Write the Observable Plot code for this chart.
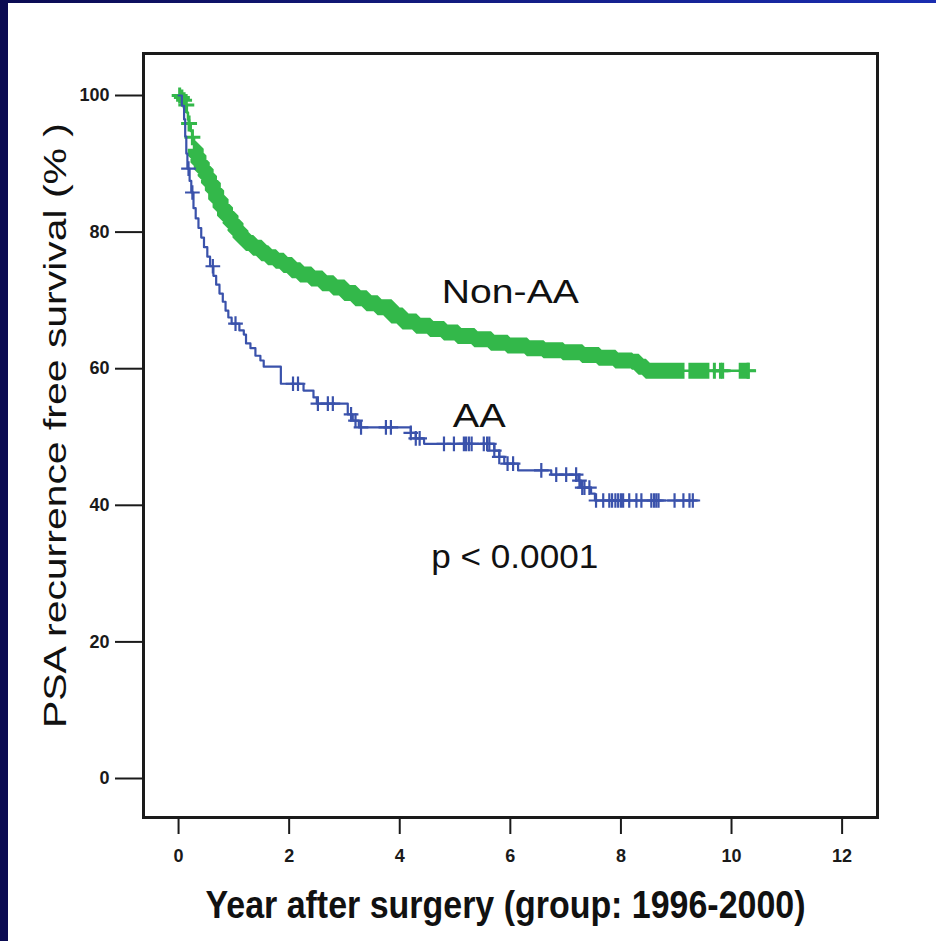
<!DOCTYPE html>
<html><head><meta charset="utf-8">
<script src="https://cdn.jsdelivr.net/npm/d3@7"></script>
<script src="https://cdn.jsdelivr.net/npm/@observablehq/plot@0.6"></script>
<style>
html,body{margin:0;padding:0;background:#fff;}
#wrap{position:relative;width:936px;height:941px;overflow:hidden;background:#fff;}
#chart{position:absolute;left:0;top:0;}
#leftbar{position:absolute;left:0;top:0;width:8px;height:941px;background:#0b0b52;}
#topbar{position:absolute;left:0;top:0;width:936px;height:3px;background:linear-gradient(to right,#0b0b52,#1a2db0);}
</style></head>
<body><div id="wrap"><div id="chart"></div><div id="leftbar"></div><div id="topbar"></div></div>
<script>
// ---- data ----
const xTicks = [0, 2, 4, 6, 8, 10, 12];
const yTicks = [0, 20, 40, 60, 80, 100];
const xLabel = "Year after surgery (group: 1996-2000)";
const yLabel = "PSA recurrence free survival (% )";

// AA group: Kaplan-Meier step points (years, %)
const aaTimes = [0, 0.06, 0.1, 0.12, 0.14, 0.16, 0.2, 0.23, 0.27, 0.31, 0.36, 0.41, 0.46, 0.52, 0.57, 0.63, 0.68, 0.74, 0.8, 0.85, 0.9, 0.96, 1.1, 1.18, 1.22, 1.3, 1.39, 1.48, 1.54, 1.85, 2.26, 2.44, 2.5, 3.06, 3.15, 3.26, 4.2, 4.29, 4.44, 5.71, 5.8, 5.89, 6.14, 6.74, 7.23, 7.28, 7.46, 7.53];
const aaSurv  = [100, 98.5, 96.5, 94, 91.5, 89.3, 87.5, 85.8, 83.5, 82, 80.6, 79.2, 77.8, 76.4, 75, 73.6, 72.3, 71, 69.8, 68.5, 67.5, 66.6, 65.6, 65, 63.7, 63, 61.9, 61.2, 60.3, 57.8, 56.8, 55.8, 54.9, 53.3, 52.4, 51.4, 50.6, 49.8, 49, 48, 47.1, 46.1, 45.1, 44.5, 43.6, 42.6, 41.7, 40.7];
const aaEnd = 9.39;
const aaCensored = [0.18, 0.25, 0.62, 1.03, 2.07, 2.16, 2.52, 2.7, 2.79, 3.12, 3.2, 3.3, 3.75, 3.84, 4.2, 4.29, 4.36, 4.8, 4.98, 5.16, 5.2, 5.25, 5.3, 5.52, 5.58, 5.62, 5.71, 5.8, 5.95, 6.05, 6.56, 6.83, 7.01, 7.19, 7.25, 7.3, 7.34, 7.43, 7.55, 7.68, 7.79, 7.84, 7.9, 7.95, 8.0, 8.04, 8.15, 8.28, 8.37, 8.55, 8.6, 8.64, 8.68, 8.97, 9.13, 9.24, 9.3];

// Non-AA group: Kaplan-Meier step points (years, %)
const nonTimes = [0, 0.04, 0.08, 0.12, 0.15, 0.17, 0.19, 0.22, 0.25, 0.28, 0.31, 0.36, 0.42, 0.49, 0.55, 0.62, 0.68, 0.76, 0.84, 0.94, 1.03, 1.12, 1.22, 1.35, 1.5, 1.62, 1.76, 1.9, 2.05, 2.2, 2.4, 2.6, 2.8, 3.0, 3.2, 3.4, 3.6, 3.85, 4.05, 4.3, 4.55, 4.8, 5.05, 5.35, 5.65, 5.95, 6.3, 6.6, 6.95, 7.3, 7.6, 7.9, 8.2, 8.32, 8.45];
const nonSurv  = [100, 99.7, 99.3, 98.6, 97.5, 96.5, 95.9, 94.8, 93.9, 92.2, 91.2, 90.2, 89.2, 88.2, 87.2, 86.1, 84.8, 83.6, 82.4, 81.3, 80.2, 79.2, 78.4, 77.7, 76.9, 76.3, 75.8, 75.2, 74.4, 73.8, 73.2, 72.5, 71.9, 71.1, 70.3, 69.6, 69.0, 67.8, 66.9, 66.3, 65.8, 65.3, 64.8, 64.3, 63.8, 63.4, 63.0, 62.7, 62.4, 62.0, 61.6, 61.2, 61.0, 60.3, 59.7];
const nonEnd = 10.42;
// runs of densely packed censoring marks (year from, year to)
const nonDenseFrom = [0.28, 9.22, 10.13];
const nonDenseTo   = [9.15, 9.6, 10.33];
const nonCensored = [0.02, 0.06, 0.1, 0.14, 0.19, 0.25, 9.69, 9.8, 9.84, 10.3];

// annotations
const annoText = ["Non-AA", "AA", "p < 0.0001"];
const annoX = [6.0, 5.44, 6.08];
const annoY = [71.2, 53.1, 32.4];

// ---- build tables ----
function stepAt(times, surv, t) { let v = surv[0]; for (let i = 0; i < times.length; i++) if (times[i] <= t) v = surv[i]; return v; }
function curve(times, surv, end) {
  const pts = times.map((t, i) => ({t, s: surv[i]}));
  pts.push({t: end, s: surv[surv.length - 1]});
  return pts;
}
function segments(times, surv, from, to) {
  const out = [];
  from.forEach((a, k) => {
    const b = to[k];
    out.push({t: a, s: stepAt(times, surv, a), k});
    times.forEach((t, i) => { if (t > a && t < b) out.push({t, s: surv[i], k}); });
    out.push({t: b, s: stepAt(times, surv, b), k});
  });
  return out;
}
const aaLine = curve(aaTimes, aaSurv, aaEnd);
const nonLine = curve(nonTimes, nonSurv, nonEnd);
const nonBand = segments(nonTimes, nonSurv, nonDenseFrom, nonDenseTo);
const aaMarks = aaCensored.map(t => ({t, s: stepAt(aaTimes, aaSurv, t)}));
const nonMarks = nonCensored.map(t => ({t, s: stepAt(nonTimes, nonSurv, t)}));
const annos = annoText.map((label, i) => ({label, x: annoX[i], y: annoY[i]}));

const GREEN = "#33b84a";
const BLUE = "#3a52ab";

const chart = Plot.plot({
  width: 936, height: 941,
  marginLeft: 143, marginRight: 59, marginTop: 53, marginBottom: 124,
  x: {domain: [-0.634, 12.64]},
  y: {domain: [-5.71, 106.15]},
  style: {fontFamily: "'Liberation Sans', Arial, sans-serif", background: "transparent", color: "#1a1a1a"},
  marks: [
    Plot.axisY(yTicks, {tickSize: 28, tickPadding: 6, fontSize: 18, fontWeight: "bold", strokeWidth: 2, label: null}),
    Plot.axisX(xTicks, {tickSize: 17, tickPadding: 15, fontSize: 18, fontWeight: "bold", strokeWidth: 2, label: null}),
    Plot.line(nonLine, {x: "t", y: "s", curve: "step-after", stroke: GREEN, strokeWidth: 2.5}),
    Plot.line(nonBand, {x: "t", y: "s", z: "k", curve: "step-after", stroke: GREEN, strokeWidth: 16, strokeLinecap: "butt", strokeLinejoin: "miter"}),
    Plot.dot(nonMarks, {x: "t", y: "s", symbol: "plus", r: 5.2, stroke: GREEN, strokeWidth: 3}),
    Plot.line(aaLine, {x: "t", y: "s", curve: "step-after", stroke: BLUE, strokeWidth: 2.2}),
    Plot.dot(aaMarks, {x: "t", y: "s", symbol: "plus", r: 4.8, stroke: BLUE, strokeWidth: 2.2}),
    Plot.text(annos, {x: "x", y: "y", text: "label", fontSize: 34, fill: "#111"}),
    Plot.text([yLabel], {text: d => d, frameAnchor: "left", textAnchor: "middle", lineAnchor: "middle", rotate: -90, dx: -88, dy: -10, fontSize: 32, fill: "#111"}),
    Plot.text([xLabel], {text: d => d, frameAnchor: "bottom", textAnchor: "middle", lineAnchor: "middle", dx: -5, dy: 88, fontSize: 38, fontWeight: "bold", fill: "#111"}),
    Plot.frame({stroke: "#1a1a1a", strokeWidth: 3})
  ]
});
// stretch the text runs to the widths they take in the reference
const runWidths = new Map([[xLabel, 600], [yLabel, 605], ["Non-AA", 137], ["AA", 53], ["p < 0.0001", 167]]);
chart.querySelectorAll("text").forEach(el => {
  const w = runWidths.get(el.textContent);
  if (w) { el.setAttribute("textLength", w); el.setAttribute("lengthAdjust", "spacingAndGlyphs"); }
});
document.getElementById("chart").appendChild(chart);
</script>
</body></html>
